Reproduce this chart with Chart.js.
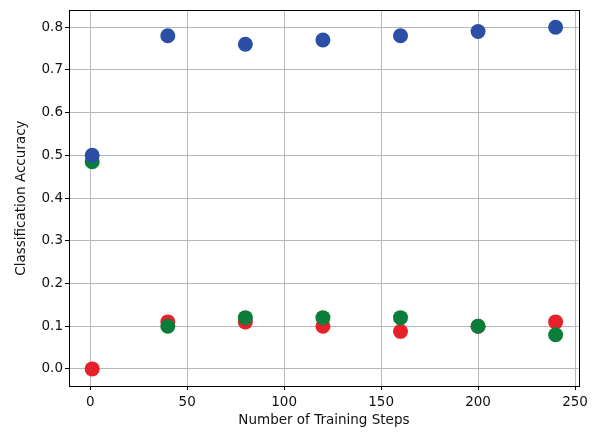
<!DOCTYPE html>
<html>
<head>
<meta charset="utf-8">
<script src="https://cdn.jsdelivr.net/npm/chart.js@4.4.1/dist/chart.umd.min.js"></script>
<style>
html,body{margin:0;padding:0;background:#fff;}
#wrap{width:592px;height:433px;position:relative;}
</style>
</head>
<body>
<div id="wrap"><canvas id="c"></canvas></div>
<script>
const steps = [1, 40, 80, 120, 160, 200, 240];
const blueAcc = [0.50, 0.78, 0.76, 0.77, 0.78, 0.79, 0.80];
const greenAcc = [0.485, 0.10, 0.12, 0.12, 0.12, 0.10, 0.08];
const redAcc = [0.00, 0.11, 0.11, 0.10, 0.088, 0.10, 0.11];
const xTicks = [0, 50, 100, 150, 200, 250];
const yTicks = [0.0, 0.1, 0.2, 0.3, 0.4, 0.5, 0.6, 0.7, 0.8];
const xTitle = 'Number of Training Steps';
const yTitle = 'Classification Accuracy';

const pts = (ys) => steps.map((x, i) => ({x: x, y: ys[i]}));
const FONT = {family: 'DejaVu Sans', size: 13.5};

const frame = {
  id: 'frame',
  afterDatasetsDraw(chart) {
    const a = chart.chartArea, ctx = chart.ctx;
    ctx.save();
    ctx.strokeStyle = '#000';
    ctx.lineWidth = 1;
    ctx.strokeRect(Math.round(a.left) + 0.5, Math.round(a.top) + 0.5,
                   Math.round(a.right - a.left), Math.round(a.bottom - a.top));
    ctx.restore();
  }
};

new Chart(document.getElementById('c'), {
  type: 'scatter',
  data: {
    datasets: [
      {label: 'blue', data: pts(blueAcc), backgroundColor: '#2a4fa5', borderColor: '#2a4fa5', pointRadius: 7.5, pointHoverRadius: 7.5, borderWidth: 0, order: 1},
      {label: 'green', data: pts(greenAcc), backgroundColor: '#0a7d3b', borderColor: '#0a7d3b', pointRadius: 7.5, pointHoverRadius: 7.5, borderWidth: 0, order: 2},
      {label: 'red', data: pts(redAcc), backgroundColor: '#e8202a', borderColor: '#e8202a', pointRadius: 7.5, pointHoverRadius: 7.5, borderWidth: 0, order: 3}
    ]
  },
  options: {
    responsive: true,
    maintainAspectRatio: false,
    animation: false,
    devicePixelRatio: 1,
    layout: {padding: {left: 0, top: 5, right: 13, bottom: 0}},
    plugins: {legend: {display: false}, tooltip: {enabled: false}},
    scales: {
      x: {
        type: 'linear',
        min: -10.95, max: 251.95,
        afterBuildTicks: (s) => { s.ticks = xTicks.map(v => ({value: v})); },
        afterFit: (s) => { s.height = 47; },
        grid: {color: '#b8b8b8', lineWidth: 1, tickColor: '#000', tickLength: 4, drawTicks: true},
        border: {display: false},
        ticks: {color: '#111', font: FONT, padding: 4, maxRotation: 0, autoSkip: false, callback: v => String(v)},
        title: {display: true, text: xTitle, color: '#111', font: FONT, padding: {top: 0, bottom: 4}}
      },
      y: {
        type: 'linear',
        min: -0.04, max: 0.84,
        afterBuildTicks: (s) => { s.ticks = yTicks.map(v => ({value: v})); },
        afterFit: (s) => { s.width = 69; },
        grid: {color: '#b8b8b8', lineWidth: 1, tickColor: '#000', tickLength: 4, drawTicks: true},
        border: {display: false},
        ticks: {color: '#111', font: FONT, padding: 2, autoSkip: false, callback: v => v.toFixed(1)},
        title: {display: true, text: yTitle, color: '#111', font: FONT, padding: {top: 13, bottom: 0}}
      }
    }
  },
  plugins: [frame]
});
</script>
</body>
</html>
